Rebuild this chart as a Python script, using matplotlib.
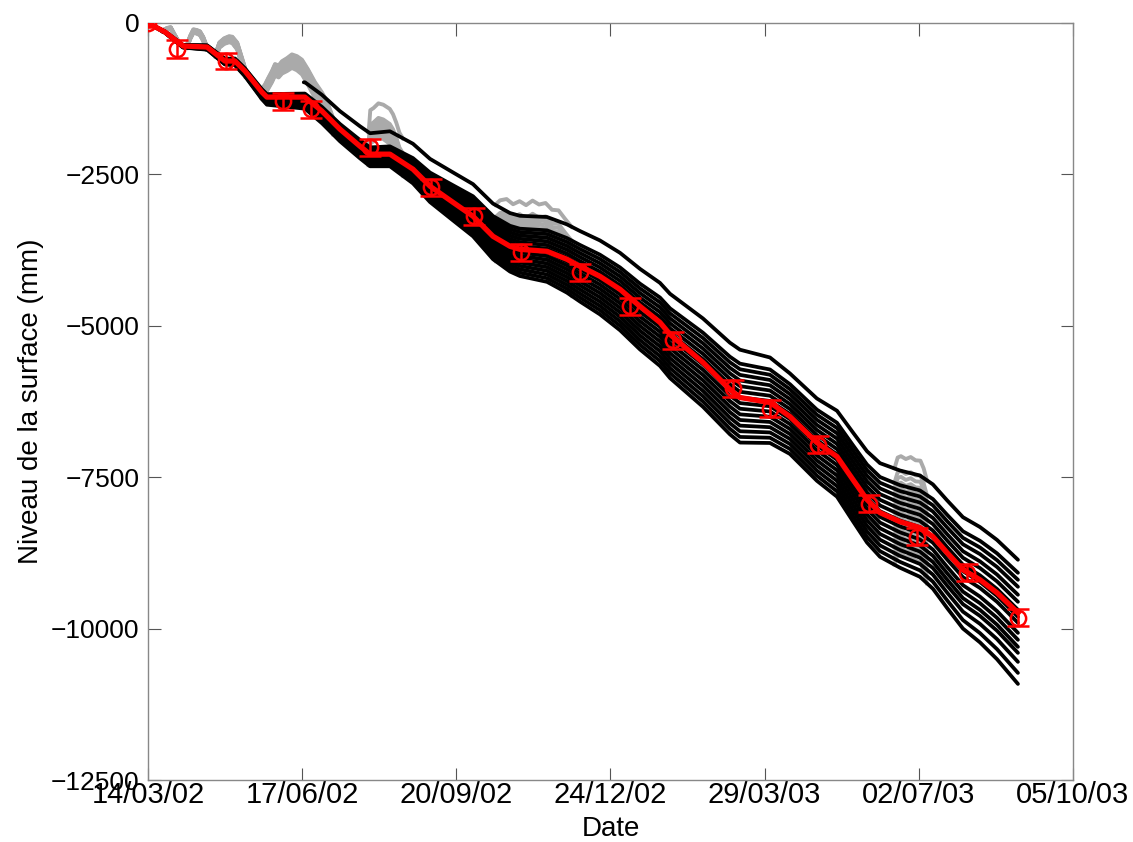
import numpy as np
import matplotlib
matplotlib.use("Agg")
import matplotlib.pyplot as plt
import matplotlib.dates as mdates
from datetime import datetime, timedelta

# ---------------- data ----------------
start_date = datetime(2002, 3, 14)

# mean (red) surface level: days since 14/03/02, level in mm
mean_days = [0, 10.5, 21.6, 36.4, 47.4, 53.6, 59.8, 70.2, 73.3, 96.7, 107.2, 118.3,
             130.6, 136.8, 149.1, 163.3, 173.8, 187.9, 200.3, 212.6, 223.1, 229.2,
             245.9, 258.2, 266.2, 278.5, 290.9, 303.2, 315.5, 321.7, 342.0, 358.6,
             364.8, 383.3, 395.6, 412.2, 424.6, 434.4, 443.1, 451.1, 463.4, 475.7,
             483.7, 492.4, 502.2, 512.7, 523.2, 536.1]
mean_level = [0, -149, -380, -397, -628, -628, -794, -1141, -1224, -1224, -1455, -1753,
              -2034, -2166, -2166, -2414, -2695, -2960, -3191, -3522, -3687, -3737,
              -3770, -3902, -4018, -4183, -4398, -4679, -4944, -5142, -5605, -6051,
              -6184, -6266, -6498, -6928, -7159, -7539, -7870, -8085, -8234, -8333,
              -8482, -8746, -9028, -9193, -9408, -9739]

# measured points with error bars
obs_days = [0, 17.9, 48.1, 83.2, 100.4, 136.8, 174.4, 200.9, 229.8, 266.2, 297.0,
            323.5, 360.5, 383.3, 412.9, 444.3, 473.9, 504.7, 536.1]
obs_level = [0, -430, -628, -1290, -1422, -2050, -2712, -3191, -3786, -4117, -4679,
             -5241, -6035, -6366, -6961, -7937, -8482, -9077, -9822]
obs_err = [60, 150, 140, 140, 140, 140, 140, 140, 140, 140, 140,
           140, 140, 140, 140, 140, 140, 140, 140]

# ensemble (black) lines: offsets (mm) from the mean line at knot days
knot_days = [0, 50, 100, 150, 200, 300, 365, 400, 470, 536]
# top stake, installed later (day 96)
top_start = 96
top_offsets = [180, 180, 250, 380, 530, 610, 790, 700, 860, 876]
# the other 15 stakes, one list per knot day (top to bottom)
off_d0 = [0] * 15
off_d50 = [40, 33, 26, 19, 11, 4, -3, -10, -17, -24, -31, -39, -46, -53, -60]
off_d100 = [60, 41, 23, 4, -14, -33, -51, -70, -89, -107, -126, -144, -163, -181, -200]
off_d150 = [130, 106, 83, 59, 36, 12, -11, -35, -59, -82, -106, -129, -153, -176, -200]
off_d200 = [330, 283, 236, 189, 141, 94, 47, 0, -47, -94, -141, -189, -236, -283, -330]
off_d300 = [365, 288, 211, 135, 58, -19, -96, -173, -249, -326, -403, -480, -557, -633, -710]
off_d365 = [560, 467, 374, 281, 188, 95, 2, -92, -185, -278, -371, -464, -557, -651, -744]
off_d400 = [530, 449, 369, 288, 207, 127, 46, -35, -116, -196, -277, -357, -438, -519, -600]
off_d470 = [610, 511, 412, 313, 214, 115, 16, -83, -182, -281, -380, -480, -579, -678, -777]
off_d536 = [661, 545, 430, 298, 182, 50, -66, -165, -331, -446, -562, -661, -810, -992, -1174]

# snow periods (grey raw records): days and snow height above the ice line (mm)
snow1_days = [9, 12, 14, 16, 19]
snow1_mm = [0, 90, 140, 80, 0]
snow2_days = [24, 26, 28, 30, 32, 34, 36]
snow2_mm = [0, 150, 260, 250, 230, 140, 0]
snow3_days = [42, 44, 47, 50, 52, 55, 58, 60]
snow3_mm = [0, 200, 330, 370, 360, 300, 120, 0]
snow4_days = [70, 72, 74, 76.4, 78.3, 80.5, 82.6, 85.7, 88.7, 91.8, 94.9, 98.6, 102.9, 107.2, 110.3, 114]
snow4_mm = [0, 120, 260, 380, 495, 470, 540, 590, 650, 620, 560, 440, 320, 240, 170, 0]
snow5_days = [136, 137, 139, 142, 145, 147, 149, 151, 153, 155, 157]
snow5_mm = [0, 380, 410, 480, 450, 410, 370, 310, 200, 60, 0]
snow6_days = [214, 217, 221, 225, 229, 233, 237, 241, 245, 249, 253, 257, 261]
snow6_mm = [0, 120, 200, 160, 240, 180, 260, 200, 230, 150, 180, 80, 0]
snow7_days = [460, 462, 464, 467, 470, 473, 476, 478, 480]
snow7_mm = [0, 200, 240, 210, 260, 230, 250, 160, 0]

tick_days = [0, 95, 190, 285, 380, 475, 570]

# ---------------- figure ----------------
FONT = "Liberation Sans"
fig = plt.figure(figsize=(11.33, 8.42), dpi=100)
ax = fig.add_axes([0.1306, 0.0736, 0.8164, 0.8991])

d0 = mdates.date2num(start_date)
mdays = np.array(mean_days, float)
mlev = np.array(mean_level, float)

ens_offsets = [top_offsets] + [list(r) for r in zip(off_d0, off_d50, off_d100, off_d150, off_d200,
                                                     off_d300, off_d365, off_d400, off_d470, off_d536)]
ens_start = [top_start] + [0] * len(off_d0)


def ens_line(i, days):
    off = np.interp(days, knot_days, ens_offsets[i])
    return np.interp(days, mdays, mlev) + off


# grey raw lines during snow periods (underneath)
snow_sets = [(snow1_days, snow1_mm), (snow2_days, snow2_mm), (snow3_days, snow3_mm),
             (snow4_days, snow4_mm), (snow5_days, snow5_mm), (snow6_days, snow6_mm),
             (snow7_days, snow7_mm)]
for sd, sm in snow_sets:
    sd = np.array(sd, float)
    for i in range(len(ens_offsets)):
        if sd[0] < ens_start[i]:
            continue
        ax.plot(d0 + sd, ens_line(i, sd) + np.array(sm, float), color="#aaaaaa",
                lw=2.8, zorder=2, solid_joinstyle="round")

# black ensemble lines
for i in range(len(ens_offsets)):
    days = np.array(sorted(set([ens_start[i]] + [d for d in mean_days if d > ens_start[i]])), float)
    ax.plot(d0 + days, ens_line(i, days), color="black", lw=2.7, zorder=3,
            solid_capstyle="round", solid_joinstyle="round")

# red mean line and observations
ax.plot(d0 + mdays, mlev, color="#ff0000", lw=3.8, zorder=5)
ax.errorbar(d0 + np.array(obs_days), obs_level, yerr=obs_err, fmt="o",
            mfc="none", mec="#ff0000", ecolor="#ff0000", color="#ff0000",
            ms=11, mew=1.8, elinewidth=1.8, capsize=8, capthick=1.8, zorder=6)

ax.set_xlim(d0, d0 + 570)
ax.set_ylim(-12500, 0)
ax.set_xticks([d0 + t for t in tick_days])
ax.set_xticklabels([(start_date + timedelta(days=t)).strftime("%d/%m/%y") for t in tick_days],
                   fontsize=21, family=FONT)
ax.set_yticks([0, -2500, -5000, -7500, -10000, -12500])
ax.set_yticklabels(["0", "\u22122500", "\u22125000", "\u22127500", "\u221210000", "\u221212500"],
                   family=FONT, fontsize=19)
ax.tick_params(axis="both", direction="in", length=9, width=0.8, color="#555555",
               top=True, right=True)
ax.tick_params(axis="x", pad=1)
ax.tick_params(axis="y", pad=6)
for s in ax.spines.values():
    s.set_color("#888888")
    s.set_linewidth(1.0)

ax.set_xlabel("Date", fontsize=20, labelpad=5, family=FONT)
ax.set_ylabel("Niveau de la surface (mm)", fontsize=20, labelpad=5, family=FONT)

fig.savefig("out.png", dpi=100, facecolor="white")
